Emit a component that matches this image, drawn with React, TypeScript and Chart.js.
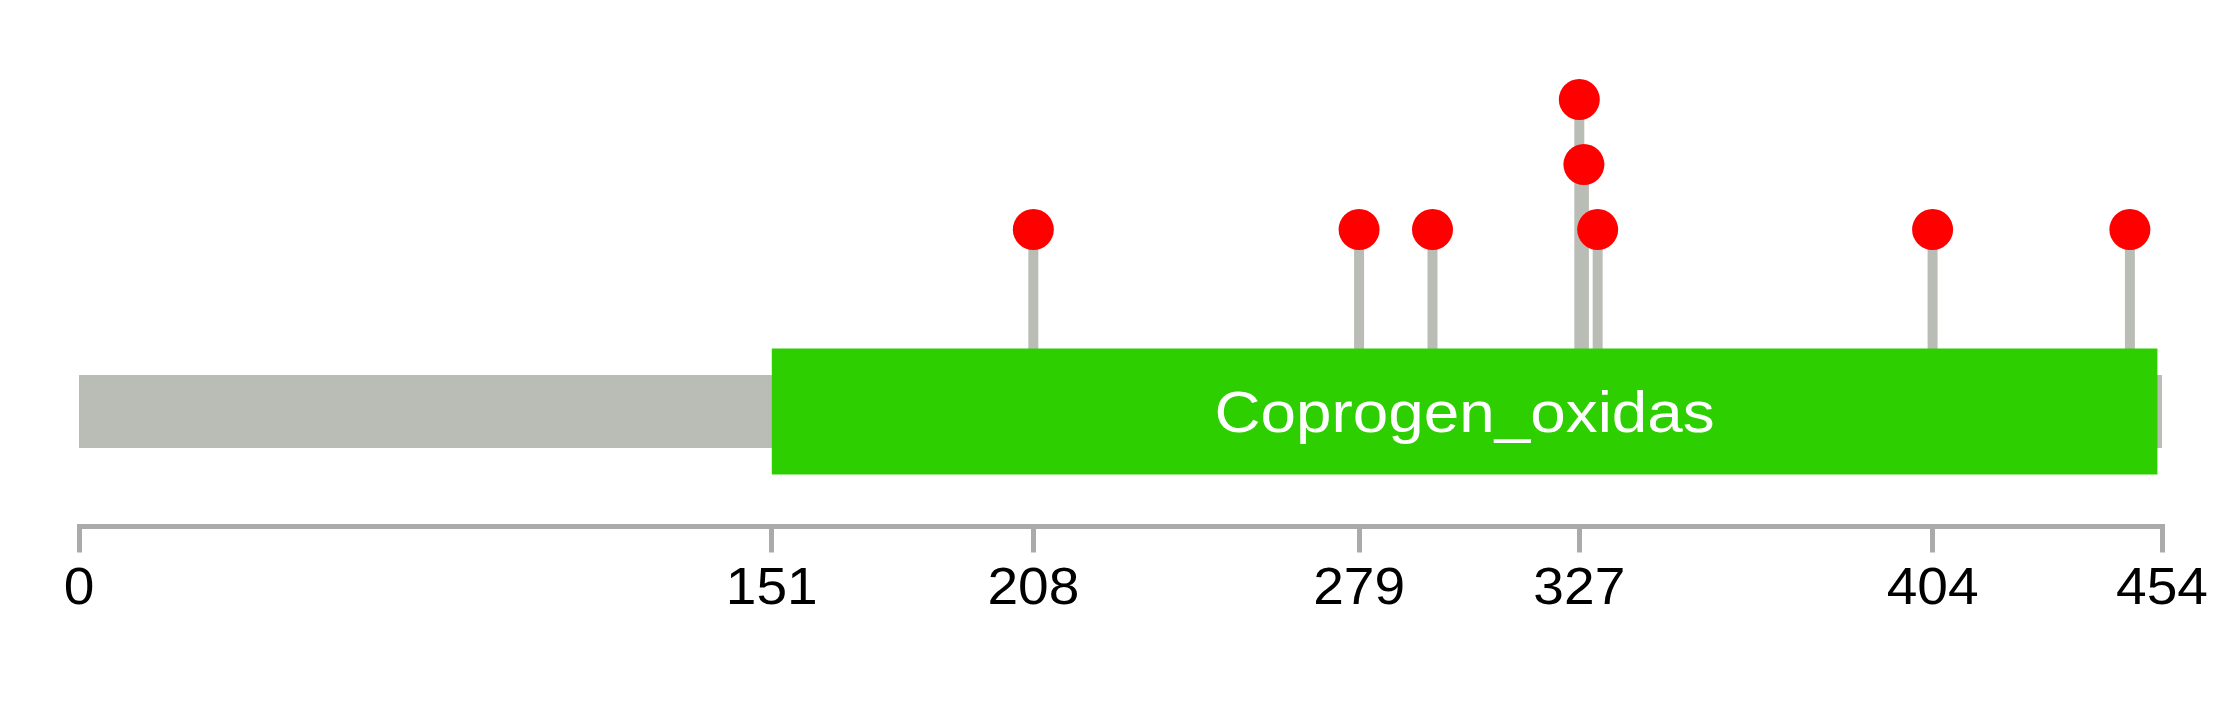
import React, { useEffect, useRef } from 'react';
import { Chart, registerables } from 'chart.js';

Chart.register(...registerables);

// ---- data ----
const proteinLength = 454;
const domainNames = ['Coprogen_oxidas'];
const domainStarts = [151];
const domainEnds = [453];
const mutationPositions = [208, 279, 295, 327, 328, 331, 404, 447];
const mutationLevels = [1, 1, 1, 3, 2, 1, 1, 1];
const axisTicks = [0, 151, 208, 279, 327, 404, 454];

// ---- layout constants (value units of the hidden y scale) ----
const Y_MIN = -3.57;
const Y_MAX = 4.5;
const TRACK_Y = -1.8;
const STICK_BASE = -1.2;

const FONT = '"Liberation Sans", Arial, Helvetica, sans-serif';

// Text drawn with a slight horizontal stretch, like the reference rendering
const textPlugin = {
  id: 'stretchedText',
  afterDraw(chart: any) {
    const { ctx } = chart;
    const xs = chart.scales.x;
    const ys = chart.scales.y;
    ctx.save();
    ctx.textAlign = 'center';
    ctx.textBaseline = 'alphabetic';

    // domain names
    ctx.fillStyle = '#FFFFFF';
    ctx.font = `58px ${FONT}`;
    domainNames.forEach((name, i) => {
      const cx = (xs.getPixelForValue(domainStarts[i]) + xs.getPixelForValue(domainEnds[i])) / 2;
      const cy = ys.getPixelForValue(TRACK_Y);
      ctx.save();
      ctx.translate(cx, cy + 20.8);
      ctx.scale(1.1, 1);
      ctx.fillText(name, 0, 0);
      ctx.restore();
    });

    // axis tick labels
    ctx.fillStyle = '#000000';
    ctx.font = `51px ${FONT}`;
    xs.ticks.forEach((t: any) => {
      const px = xs.getPixelForValue(t.value);
      ctx.save();
      ctx.translate(px, xs.top + 77.5);
      ctx.scale(1.08, 1);
      ctx.fillText(String(t.value), 0, 0);
      ctx.restore();
    });
    ctx.restore();
  },
};

export default function App() {
  const ref = useRef<HTMLCanvasElement>(null);

  useEffect(() => {
    document.body.style.margin = '0';
    const heads = mutationPositions.map((p, i) => ({ x: p, y: mutationLevels[i] }));
    // each stick is a vertical segment; null points break the line between sticks
    const sticks: any[] = [];
    mutationPositions.forEach((p, i) => {
      sticks.push({ x: p, y: STICK_BASE }, { x: p, y: mutationLevels[i] }, { x: p, y: null });
    });
    const domains: any[] = [];
    domainStarts.forEach((s, i) => {
      domains.push({ x: s, y: TRACK_Y }, { x: domainEnds[i], y: TRACK_Y }, { x: domainEnds[i], y: null });
    });
    const protein = [
      { x: 0, y: TRACK_Y },
      { x: proteinLength, y: TRACK_Y },
    ];

    const segment = (color: string, width: number, order: number, data: any[], label: string) =>
      ({
        type: 'line',
        label,
        data,
        xAxisID: 'x',
        yAxisID: 'y',
        borderColor: color,
        backgroundColor: color,
        borderWidth: width,
        borderCapStyle: 'butt',
        borderJoinStyle: 'miter',
        pointRadius: 0,
        pointHoverRadius: 0,
        spanGaps: false,
        fill: false,
        tension: 0,
        order,
      }) as any;

    const chart = new Chart(ref.current as HTMLCanvasElement, {
      type: 'scatter',
      data: {
        datasets: [
          {
            type: 'scatter',
            label: 'mutations',
            data: heads,
            xAxisID: 'x',
            yAxisID: 'y',
            pointRadius: 20.5,
            pointHoverRadius: 20.5,
            pointStyle: 'circle',
            backgroundColor: '#FF0000',
            borderWidth: 0,
            order: 0,
          } as any,
          segment('#2ECF00', 126, 1, domains, 'domains'),
          segment('#BABDB6', 73, 2, protein, 'protein'),
          segment('#BABDB6', 10, 3, sticks, 'sticks'),
        ],
      },
      options: {
        responsive: false,
        devicePixelRatio: 1,
        animation: false,
        events: [],
        layout: { autoPadding: false, padding: { left: 79, right: 77, top: 2, bottom: 82.3 } },
        plugins: { legend: { display: false }, tooltip: { enabled: false } },
        scales: {
          x: {
            type: 'linear',
            position: 'bottom',
            min: 0,
            max: proteinLength,
            offset: false,
            afterBuildTicks: (s: any) => {
              s.ticks = axisTicks.map((v) => ({ value: v }));
            },
            grid: {
              display: true,
              drawOnChartArea: false,
              drawTicks: true,
              tickLength: 26,
              lineWidth: 5,
              color: '#AAAAAA',
              offset: false,
            },
            border: { display: true, width: 5, color: '#AAAAAA' },
            ticks: {
              autoSkip: false,
              maxRotation: 0,
              minRotation: 0,
              padding: 6,
              color: 'rgba(0,0,0,0)',
              font: { family: FONT, size: 51 },
            },
          },
          y: { type: 'linear', display: false, min: Y_MIN, max: Y_MAX },
        },
      } as any,
      plugins: [textPlugin],
    });
    return () => chart.destroy();
  }, []);

  return (
    <div style={{ width: 2239, height: 708 }}>
      <canvas ref={ref} width={2239} height={708} style={{ display: 'block', width: 2239, height: 708 }} />
    </div>
  );
}
